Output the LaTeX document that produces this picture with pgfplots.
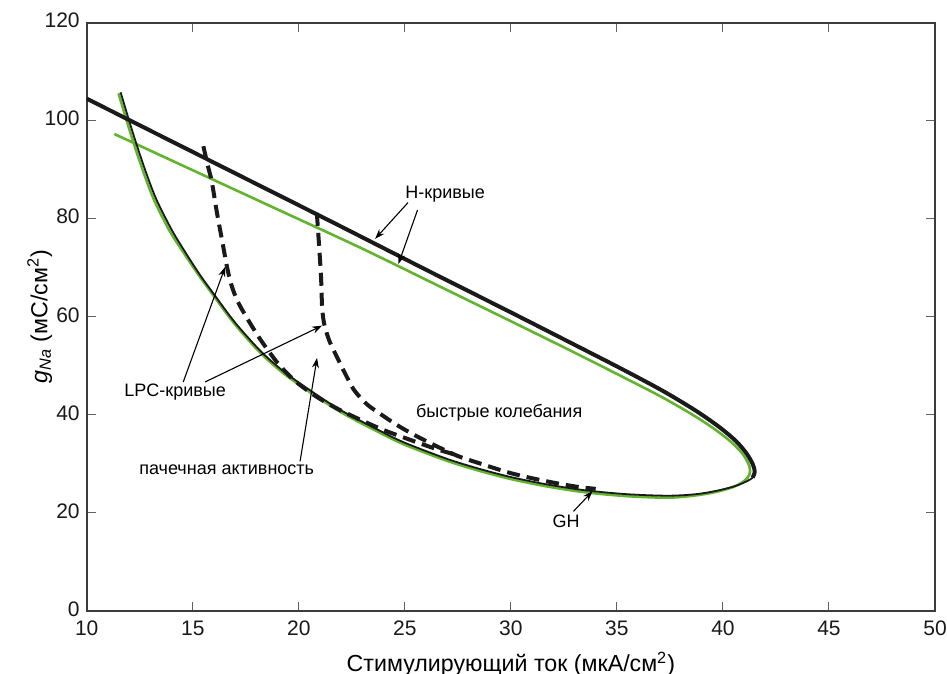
\documentclass[border=0pt]{standalone}
\usepackage{fontspec}
\setmainfont{Liberation Sans}
\usepackage{pgfplots}
\pgfplotsset{compat=1.18}
\usetikzlibrary{arrows.meta}

\definecolor{curvegreen}{RGB}{98,180,46}
\definecolor{curveblack}{RGB}{26,26,26}
\definecolor{axisgray}{RGB}{60,60,60}

\begin{document}
\begin{tikzpicture}
\begin{axis}[
  width=424pt, height=294pt, scale only axis,
  xmin=10, xmax=50, ymin=0, ymax=120,
  xtick={10,15,...,50}, ytick={0,20,...,120},
  tick align=inside,
  major tick length=4.5pt,
  axis line style={line width=1pt, color=axisgray},
  every tick/.style={line width=0.5pt, color=axisgray!80},
  /pgf/number format/assume math mode=true,
  ticklabel style={font=\fontsize{10.5}{12}\selectfont, color=black!90},
  xticklabel style={yshift=-1.5pt},
  yticklabel style={yshift=1pt},
  xlabel={Стимулирующий ток (мкА/см\textsuperscript{2})},
  ylabel={\textit{g}\textsubscript{\textit{Na}} (мС/см\textsuperscript{2})},
  xlabel style={font=\fontsize{11.6}{13}\selectfont, at={(axis description cs:0.5,-0.1037)}, anchor=base},
  ylabel style={font=\fontsize{11.6}{13}\selectfont, at={(axis description cs:-0.0554,0.5)}, anchor=center, rotate=0},
  clip=true,
]
% Green H-curve and GH branch
\addplot[color=curvegreen, line width=1.3pt, smooth, line join=round] coordinates {
 (11.3,97.3) (15,89.9) (19,81.9) (22.9,74.1) (26.5,66.5) (30,59.1) (33,52.7)
 (35.2,47.9) (37.0,43.9) (38.5,40.2) (39.6,37.1) (40.4,34.4) (40.95,31.9)
 (41.25,29.5) (41.25,27.8) (41.0,26.5) (40.5,25.3) (39.6,24.2) (38.6,23.5)
 (37.4,23.1) (35.5,23.4) (33.5,24.2) (31.7,25.4) (30.0,26.9) (28.5,28.6)
 (27.0,30.6) (25.0,33.9) (23.8,36.4) (22.0,40.5) (20.5,44.7) (19.3,48.4)
 (18.2,52.6) (17.0,58.4) (16.0,64.2) (15.3,68.4) (14.55,73.2) (13.9,77.6)
 (13.2,83.6) (12.75,88.6) (12.3,94.3) (11.9,99.8) (11.5,105.6)
};
% Black H-curve (upper branch)
\addplot[color=curveblack, line width=2pt, smooth, line join=round] coordinates {
 (10,104.5) (14,95.8) (18,87.1) (22,78.4) (26,69.6) (30,60.9) (33,54.3)
 (35.3,49.2) (37.2,44.8) (38.7,40.9) (39.8,37.6) (40.6,34.7) (41.1,32.2)
 (41.4,30.0) (41.5,28.4) (41.4,27.2)
};
% Black GH branch
\addplot[color=curveblack, line width=0.9pt, smooth, line join=round] coordinates {
 (41.5,28.4) (41.4,27.2) (41.15,26.5) (40.6,25.5) (39.7,24.5) (38.7,23.8)
 (37.4,23.5) (35.5,23.8) (33.5,24.6) (31.7,25.8) (30.0,27.3) (28.5,29.0)
 (27.0,31.0) (25.0,34.3) (23.8,36.8) (22.0,40.9) (20.5,45.1) (19.3,48.8)
 (18.2,53.0) (17.0,58.8) (16.0,64.6) (15.3,68.8) (14.6,73.5) (14.0,77.8)
 (13.3,83.8) (12.85,88.8) (12.4,94.5) (12.0,100) (11.6,105.8)
};
% LPC curves (dashed)
\addplot[color=curveblack, line width=2pt, smooth, dash pattern=on 6.5pt off 3.5pt] coordinates {
 (15.5,94.8) (15.7,91) (15.9,87.5) (16.15,81) (16.4,75.2) (16.6,70.5)
 (16.8,66.8) (17.1,63.3) (17.55,59.8) (18.2,55.3) (19.0,50.6) (19.8,47.0)
 (20.8,43.8) (21.8,41.3) (22.9,39.0) (24.0,36.9) (25.25,34.9) (26.5,33.0)
 (27.6,31.6)
};
\addplot[color=curveblack, line width=2pt, smooth, dash pattern=on 6.5pt off 3.5pt] coordinates {
 (20.85,81.2) (20.95,75) (21.05,68) (21.1,62) (21.2,58.5) (21.45,55)
 (21.8,51.8) (22.2,48.3) (22.6,45.1) (23.2,42.2) (23.84,40.2) (24.6,38.0)
 (25.4,36.0) (26.4,33.8) (27.5,31.6) (28.6,30.0) (30.0,28.1) (31.5,26.6)
 (33.0,25.4) (34.0,24.9)
};
% Annotations
\begin{scope}[font=\fontsize{9}{11}\selectfont]
\node at (axis cs:26.9,85.1) {H-кривые};
\node at (axis cs:14.17,44.7) {LPC-кривые};
\node at (axis cs:16.6,28.8) {пачечная активность};
\node at (axis cs:29.45,40.4) {быстрые колебания};
\node at (axis cs:32.6,18.2) {GH};
\end{scope}
\begin{scope}[line width=0.55pt, -{Stealth[length=5pt,width=3.5pt]}]
\draw (axis cs:25.15,83.3) -- (axis cs:23.6,75.9);
\draw (axis cs:25.6,81.8) -- (axis cs:24.7,70.8);
\draw (axis cs:14.55,46.7) -- (axis cs:16.53,70.2);
\draw (axis cs:15.58,46.7) -- (axis cs:21.1,58.2);
\draw (axis cs:20.06,30.5) -- (axis cs:20.86,51.6);
\draw (axis cs:32.95,20.3) -- (axis cs:33.85,24.4);
\end{scope}
\end{axis}
\pgfresetboundingbox
\path[use as bounding box] ([shift={(-43.35pt,-31.5pt)}]current axis.south west) rectangle ([shift={(6pt,11.35pt)}]current axis.north east);
\end{tikzpicture}
\end{document}
